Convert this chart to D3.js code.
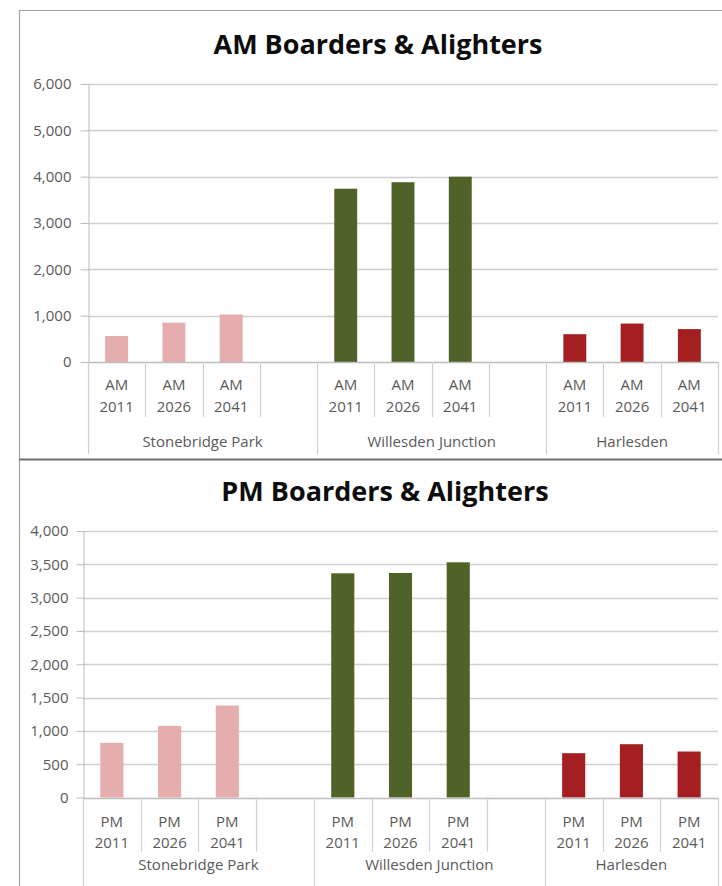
<!DOCTYPE html>
<html>
<head>
<meta charset="utf-8">
<script src="https://cdn.jsdelivr.net/npm/d3@7"></script>
<style>
  body { margin: 0; background: #fff; }
  svg { display: block; }
  text { font-family: "Open Sans", "DejaVu Sans", sans-serif; }
</style>
</head>
<body>
<svg id="chart" width="722" height="886"></svg>
<script>
// Stations (groups on the category axis) and forecast years
const stations = ["Stonebridge Park", "Willesden Junction", "Harlesden"];
const years = ["2011", "2026", "2041"];

// Boarders & alighters per station, one row per station, one value per year
const amValues = [
  [560, 850, 1025],
  [3740, 3880, 4000],
  [600, 830, 710]
];
const pmValues = [
  [820, 1075, 1380],
  [3365, 3370, 3530],
  [665, 800, 690]
];

// Value-axis tick labels
const amTicks = [0, 1000, 2000, 3000, 4000, 5000, 6000];
const pmTicks = [0, 500, 1000, 1500, 2000, 2500, 3000, 3500, 4000];

const stationColors = ["#e6adae", "#4f6228", "#a31f22"];

const svg = d3.select("#chart");
const fmt = d3.format(",");

// Category slots: three years per station, with a blank slot between stations
const slots = [];
stations.forEach((s, i) => {
  years.forEach((y, j) => slots.push({ key: s + "|" + y, station: i, year: j }));
  if (i < stations.length - 1) slots.push({ key: "gap" + i, station: i, year: null });
});

// Outer frame of the two stacked charts
const frame = svg.append("g");
frame.append("line").attr("x1", 19.5).attr("x2", 722).attr("y1", 10.5).attr("y2", 10.5)
  .attr("stroke", "#a3a3a3").attr("stroke-width", 1.2);
frame.append("line").attr("x1", 19.5).attr("x2", 19.5).attr("y1", 10).attr("y2", 886)
  .attr("stroke", "#a3a3a3").attr("stroke-width", 1.2);
frame.append("line").attr("x1", 19).attr("x2", 722).attr("y1", 459.5).attr("y2", 459.5)
  .attr("stroke", "#6f6f6f").attr("stroke-width", 2.2);

function drawPanel(cfg) {
  const g = svg.append("g");

  const x = d3.scaleBand()
    .domain(slots.map(d => d.key))
    .range([cfg.left, cfg.right])
    .padding(0);
  const y = d3.scaleLinear()
    .domain([0, d3.max(cfg.ticks)])
    .range([cfg.zero, cfg.top]);

  // Title
  g.append("text")
    .attr("x", cfg.titleX).attr("y", cfg.titleY)
    .attr("text-anchor", "middle")
    .attr("font-weight", 700).attr("font-size", 27)
    .attr("fill", "#0d0d0d")
    .text(cfg.title);

  // Horizontal gridlines
  g.append("g").selectAll("line")
    .data(cfg.ticks.filter(t => t > 0))
    .join("line")
    .attr("x1", cfg.left).attr("x2", cfg.right)
    .attr("y1", d => Math.round(y(d)) + 0.5).attr("y2", d => Math.round(y(d)) + 0.5)
    .attr("stroke", "#cfcfcf").attr("stroke-width", 1.3);

  // Value axis
  const yAxis = g.append("g")
    .attr("transform", `translate(${cfg.left + 0.5},0)`)
    .call(d3.axisLeft(y).tickValues(cfg.ticks).tickFormat(fmt)
      .tickSizeInner(cfg.tickLen).tickSizeOuter(0).tickPadding(cfg.tickPad));
  yAxis.select(".domain").attr("stroke", "#bdbdbd");
  yAxis.selectAll(".tick line").attr("stroke", "#bdbdbd");
  yAxis.selectAll(".tick text")
    .attr("font-size", 15).attr("fill", "#5a5a5a")
    .attr("font-family", "\"Open Sans\", sans-serif");

  // Bars
  const barW = x.bandwidth() / 2.5;
  const barData = slots.filter(d => d.year !== null)
    .map(d => ({ ...d, value: cfg.values[d.station][d.year] }));
  g.append("g").selectAll("rect")
    .data(barData)
    .join("rect")
    .attr("x", d => x(d.key) + (x.bandwidth() - barW) / 2)
    .attr("width", barW)
    .attr("y", d => y(d.value))
    .attr("height", d => y(0) - y(d.value))
    .attr("fill", d => stationColors[d.station]);

  // Category axis line
  g.append("line")
    .attr("x1", cfg.left).attr("x2", cfg.right)
    .attr("y1", Math.round(y(0)) + 0.5).attr("y2", Math.round(y(0)) + 0.5)
    .attr("stroke", "#bdbdbd").attr("stroke-width", 1.3);

  // Slot boundary ticks: long at station boundaries, short between years
  const groupStarts = [];
  slots.forEach((d, i) => { if (i === 0 || slots[i - 1].station !== d.station) groupStarts.push(i); });
  const bounds = d3.range(slots.length + 1).map(i => ({
    x: i < slots.length ? x(slots[i].key) : x.range()[1],
    long: i === slots.length || groupStarts.includes(i)
  }));
  g.append("g").selectAll("line")
    .data(bounds)
    .join("line")
    .attr("x1", d => Math.round(d.x) + 0.5).attr("x2", d => Math.round(d.x) + 0.5)
    .attr("y1", y(0))
    .attr("y2", d => d.long ? cfg.groupTickEnd : y(0) + cfg.innerTick)
    .attr("stroke", "#cfcfcf").attr("stroke-width", 1.2);

  // Period / year labels
  const lab = g.append("g").attr("font-size", 15).attr("fill", "#5a5a5a").attr("text-anchor", "middle");
  lab.selectAll("text.period")
    .data(barData).join("text").attr("class", "period")
    .attr("x", d => x(d.key) + x.bandwidth() / 2)
    .attr("y", y(0) + cfg.row1)
    .text(cfg.period);
  lab.selectAll("text.year")
    .data(barData).join("text").attr("class", "year")
    .attr("x", d => x(d.key) + x.bandwidth() / 2)
    .attr("y", y(0) + cfg.row2)
    .text(d => years[d.year]);

  // Station labels centred under each station's span of slots
  const stationSpans = stations.map((s, i) => {
    const start = groupStarts[i];
    const end = i + 1 < groupStarts.length ? groupStarts[i + 1] : slots.length;
    const x0 = x(slots[start].key);
    const x1 = end < slots.length ? x(slots[end].key) : x.range()[1];
    return { name: s, cx: (x0 + x1) / 2 };
  });
  lab.selectAll("text.station")
    .data(stationSpans).join("text").attr("class", "station")
    .attr("x", d => d.cx)
    .attr("y", y(0) + cfg.row3)
    .text(d => d.name);
}

drawPanel({
  title: "AM Boarders & Alighters", period: "AM",
  values: amValues, ticks: amTicks,
  titleX: 378, titleY: 54,
  left: 88, right: 718, top: 84, zero: 362,
  tickLen: 8, tickPad: 9,
  innerTick: 55, groupTickEnd: 454,
  row1: 28, row2: 50, row3: 85
});

drawPanel({
  title: "PM Boarders & Alighters", period: "PM",
  values: pmValues, ticks: pmTicks,
  titleX: 385, titleY: 501,
  left: 83, right: 718, top: 531, zero: 797.5,
  tickLen: 7, tickPad: 8,
  innerTick: 54, groupTickEnd: 886,
  row1: 29, row2: 50, row3: 72
});
</script>
</body>
</html>
